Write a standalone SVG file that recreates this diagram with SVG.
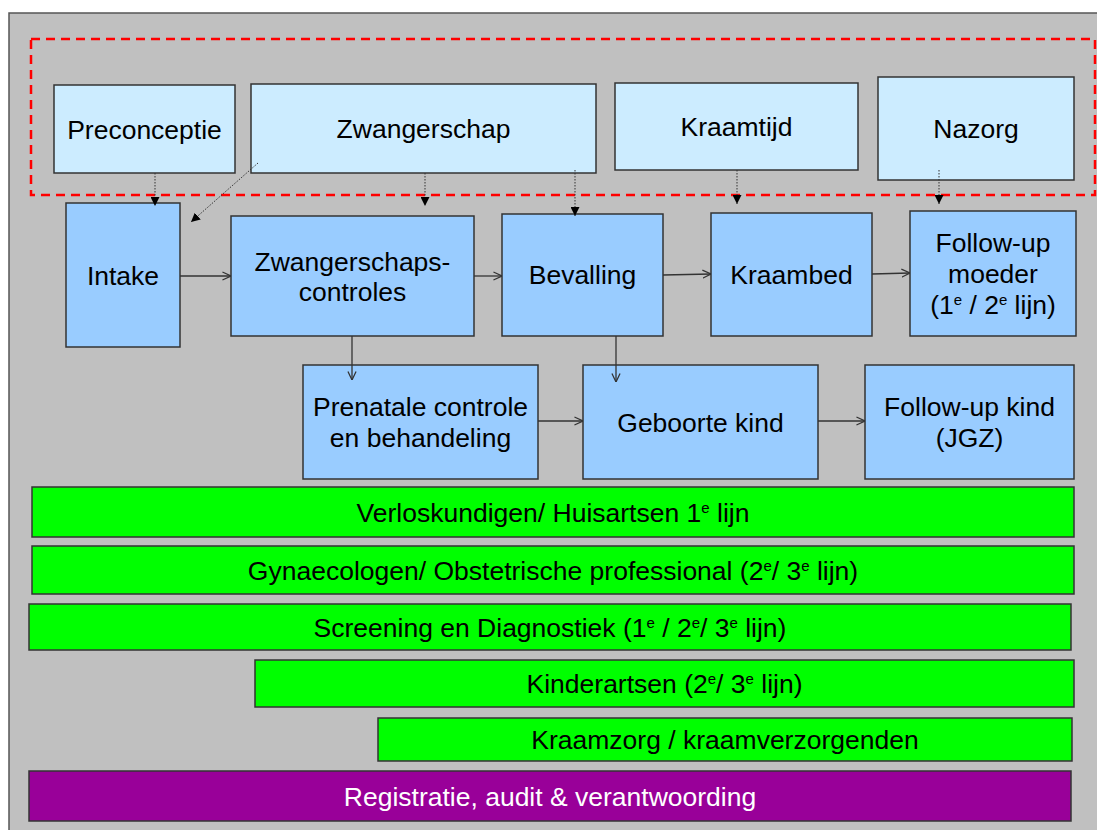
<svg xmlns="http://www.w3.org/2000/svg" width="1097" height="830" viewBox="0 0 1097 830">
  <style>
    text { font-family: "Liberation Sans", Arial, sans-serif; font-size: 26.5px; fill: #000; text-anchor: middle; }
    .phase { fill: #CCECFF; stroke: #333; stroke-width: 1.5; }
    .step { fill: #99CCFF; stroke: #333; stroke-width: 1.5; }
    .role { fill: #00FF00; stroke: #333; stroke-width: 1.5; }
    .admin { fill: #990099; stroke: #333; stroke-width: 1.5; }
    .light { fill: #FFFFFF; }
    .sup { font-size: 15px; }
    .flow { fill: none; stroke: #333; stroke-width: 1.3; marker-end: url(#open); }
    .link { fill: none; stroke: #333; stroke-width: 1; stroke-dasharray: 1.5 1.5; marker-end: url(#solid); }
  </style>
  <defs>
    <marker id="open" viewBox="0 0 10 10" refX="9.5" refY="5" markerWidth="9" markerHeight="10" markerUnits="userSpaceOnUse" orient="auto">
      <path d="M0,0.5 L9.5,5 L0,9.5" fill="none" stroke="#333" stroke-width="1.4"/>
    </marker>
    <marker id="solid" viewBox="0 0 10 10" refX="10" refY="5" markerWidth="9" markerHeight="9" markerUnits="userSpaceOnUse" orient="auto">
      <path d="M0,0 L10,5 L0,10 z" fill="#000"/>
    </marker>
  </defs>

  <!-- canvas -->
  <rect x="0" y="0" width="1097" height="830" fill="#FFFFFF"/>
  <rect id="frame" x="9" y="13" width="1100" height="830" fill="#C0C0C0" stroke="#555" stroke-width="1.5"/>

  <!-- care phases, grouped by the dashed outline -->
  <rect id="phase-outline" x="31" y="39" width="1064" height="156" fill="none" stroke="#FF0000" stroke-width="2.5" stroke-dasharray="9 6"/>

  <g id="preconceptie">
    <rect class="phase" x="54" y="85" width="181" height="88"/>
    <text x="144.5" y="138.5">Preconceptie</text>
  </g>
  <g id="zwangerschap">
    <rect class="phase" x="251" y="84" width="345" height="89"/>
    <text x="423.5" y="138">Zwangerschap</text>
  </g>
  <g id="kraamtijd">
    <rect class="phase" x="615" y="83" width="243" height="87"/>
    <text x="736.5" y="136">Kraamtijd</text>
  </g>
  <g id="nazorg">
    <rect class="phase" x="878" y="77" width="196" height="103"/>
    <text x="976" y="138">Nazorg</text>
  </g>

  <!-- care steps -->
  <g id="intake">
    <rect class="step" x="66" y="203" width="114" height="144"/>
    <text x="123" y="284.5">Intake</text>
  </g>
  <g id="zwangerschapscontroles">
    <rect class="step" x="231" y="216" width="243" height="120"/>
    <text x="352.5" y="270.5">Zwangerschaps-</text>
    <text x="352.5" y="301">controles</text>
  </g>
  <g id="bevalling">
    <rect class="step" x="502" y="214" width="161" height="122"/>
    <text x="582.5" y="284">Bevalling</text>
  </g>
  <g id="kraambed">
    <rect class="step" x="711" y="213" width="161" height="123"/>
    <text x="791.5" y="283.5">Kraambed</text>
  </g>
  <g id="follow-up-moeder">
    <rect class="step" x="910" y="211" width="166" height="125"/>
    <text x="993" y="252">Follow-up</text>
    <text x="993" y="283">moeder</text>
    <text x="993" y="314">(1<tspan class="sup" dy="-9">e</tspan><tspan dy="9"> / 2</tspan><tspan class="sup" dy="-9">e</tspan><tspan dy="9"> lijn)</tspan></text>
  </g>
  <g id="prenatale-controle">
    <rect class="step" x="303" y="365" width="235" height="114"/>
    <text x="420.5" y="416">Prenatale controle</text>
    <text x="420.5" y="446.5">en behandeling</text>
  </g>
  <g id="geboorte-kind">
    <rect class="step" x="583" y="365" width="235" height="114"/>
    <text x="700.5" y="431.5">Geboorte kind</text>
  </g>
  <g id="follow-up-kind">
    <rect class="step" x="865" y="365" width="209" height="114"/>
    <text x="969.5" y="416">Follow-up kind</text>
    <text x="969.5" y="446.5">(JGZ)</text>
  </g>

  <!-- professional groups -->
  <g id="verloskundigen">
    <rect class="role" x="32" y="487" width="1042" height="50"/>
    <text x="553" y="521.5">Verloskundigen/ Huisartsen 1<tspan class="sup" dy="-9">e</tspan><tspan dy="9"> lijn</tspan></text>
  </g>
  <g id="gynaecologen">
    <rect class="role" x="32" y="546" width="1042" height="48"/>
    <text x="553" y="579.5">Gynaecologen/ Obstetrische professional (2<tspan class="sup" dy="-9">e</tspan><tspan dy="9">/ 3</tspan><tspan class="sup" dy="-9">e</tspan><tspan dy="9"> lijn)</tspan></text>
  </g>
  <g id="screening">
    <rect class="role" x="29" y="604" width="1042" height="46"/>
    <text x="550" y="636.5">Screening en Diagnostiek (1<tspan class="sup" dy="-9">e</tspan><tspan dy="9"> / 2</tspan><tspan class="sup" dy="-9">e</tspan><tspan dy="9">/ 3</tspan><tspan class="sup" dy="-9">e</tspan><tspan dy="9"> lijn)</tspan></text>
  </g>
  <g id="kinderartsen">
    <rect class="role" x="255" y="660" width="819" height="47"/>
    <text x="664.5" y="693">Kinderartsen (2<tspan class="sup" dy="-9">e</tspan><tspan dy="9">/ 3</tspan><tspan class="sup" dy="-9">e</tspan><tspan dy="9"> lijn)</tspan></text>
  </g>
  <g id="kraamzorg">
    <rect class="role" x="378" y="718" width="694" height="43"/>
    <text x="725" y="749">Kraamzorg / kraamverzorgenden</text>
  </g>
  <g id="registratie">
    <rect class="admin" x="29" y="771" width="1042" height="50"/>
    <text class="light" x="550" y="805.5">Registratie, audit &amp; verantwoording</text>
  </g>

  <!-- connectors -->
  <g id="connectors">
    <!-- phase to step links (dotted) -->
    <line class="link" x1="155" y1="173" x2="155" y2="206"/>
    <line class="link" x1="258" y1="163" x2="191" y2="222"/>
    <line class="link" x1="425" y1="173" x2="425" y2="206"/>
    <line class="link" x1="575" y1="170" x2="575" y2="216"/>
    <line class="link" x1="737" y1="170" x2="737" y2="204"/>
    <line class="link" x1="939" y1="170" x2="939" y2="204"/>
    <!-- care flow (solid) -->
    <line class="flow" x1="180" y1="276" x2="231" y2="276"/>
    <line class="flow" x1="474" y1="276" x2="502" y2="276"/>
    <line class="flow" x1="663" y1="275" x2="711" y2="274"/>
    <line class="flow" x1="872" y1="274" x2="910" y2="273"/>
    <line class="flow" x1="352" y1="336" x2="352" y2="380"/>
    <line class="flow" x1="616" y1="336" x2="616" y2="382"/>
    <line class="flow" x1="538" y1="421" x2="583" y2="421"/>
    <line class="flow" x1="818" y1="421" x2="865" y2="421"/>
  </g>
</svg>
